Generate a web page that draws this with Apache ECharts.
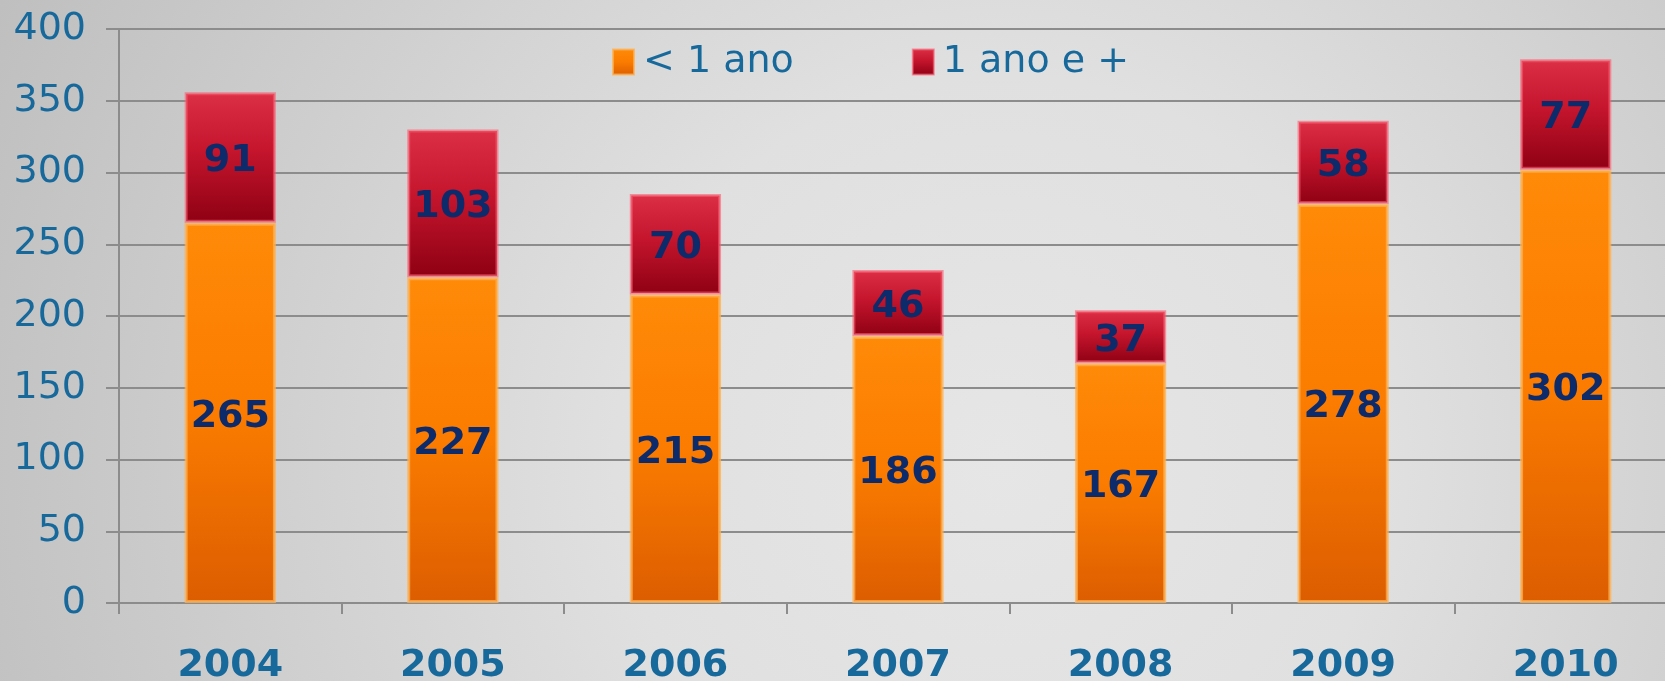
<!DOCTYPE html>
<html>
<head>
<meta charset="utf-8">
<script src="https://cdn.jsdelivr.net/npm/echarts@6/dist/echarts.min.js"></script>
<style>
  html, body { margin: 0; padding: 0; }
  #chart { width: 1665px; height: 681px; }
</style>
</head>
<body>
<div id="chart"></div>
<script>
// Years on the category axis
const years = ['2004', '2005', '2006', '2007', '2008', '2009', '2010'];
// Counts under one year
const underOneYear = [265, 227, 215, 186, 167, 278, 302];
// Counts of one year and more
const oneYearPlus = [91, 103, 70, 46, 37, 58, 77];
// Value axis ticks
const yMin = 0, yMax = 400, yStep = 50;

const FONT = 'DejaVu Sans';
const BLUE = '#17699c';
const NAVY = '#0d2b6b';
const GRID_GREY = '#8c8c8c';

const chart = echarts.init(document.getElementById('chart'), null, { renderer: 'canvas' });

function vGrad(stops) {
  return new echarts.graphic.LinearGradient(0, 0, 0, 1,
    stops.map(([offset, color]) => ({ offset, color })));
}

const labelStyle = {
  show: true,
  position: 'inside',
  offset: [0, 4],
  fontFamily: FONT,
  fontWeight: 'bold',
  fontSize: 38,
  color: NAVY
};

chart.setOption({
  animation: false,
  backgroundColor: new echarts.graphic.RadialGradient(1000, 460, 1100, [
    { offset: 0, color: '#e6e6e6' },
    { offset: 0.35, color: '#e0e0e0' },
    { offset: 0.7, color: '#cecece' },
    { offset: 1, color: '#bfbfbf' }
  ], true),
  textStyle: { fontFamily: FONT },
  legend: {
    left: 607,
    top: 38,
    itemWidth: 21,
    itemHeight: 25,
    itemGap: 118,
    icon: 'rect',
    textStyle: { fontFamily: FONT, fontSize: 38, color: BLUE, padding: [0, 0, 0, 4] },
    data: ['< 1 ano', '1 ano e +']
  },
  grid: {
    left: 119, top: 29, width: 1558, bottom: 78,
    containLabel: false,
    outerBoundsMode: 'none'
  },
  xAxis: {
    type: 'category',
    data: years,
    axisLine: { lineStyle: { color: GRID_GREY, width: 2 } },
    axisTick: { show: true, length: 11, lineStyle: { color: GRID_GREY, width: 2 } },
    axisLabel: {
      margin: 44,
      fontFamily: FONT,
      fontWeight: 'bold',
      fontSize: 38,
      color: BLUE
    }
  },
  yAxis: {
    type: 'value',
    min: yMin,
    max: yMax,
    interval: yStep,
    axisLine: { show: true, lineStyle: { color: GRID_GREY, width: 2 } },
    axisTick: { show: true, length: 13, lineStyle: { color: GRID_GREY, width: 2 } },
    splitLine: { show: true, lineStyle: { color: GRID_GREY, width: 2 } },
    axisLabel: {
      margin: 33,
      fontFamily: FONT,
      fontSize: 38,
      color: BLUE
    }
  },
  series: [
    {
      name: '< 1 ano',
      type: 'bar',
      stack: 'total',
      barWidth: '41%',
      data: underOneYear,
      itemStyle: {
        color: vGrad([[0, '#ff8a08'], [0.5, '#fb7c00'], [1, '#dc5d00']]),
        borderColor: 'rgba(255, 176, 80, 0.75)',
        borderWidth: 3
      },
      label: labelStyle
    },
    {
      name: '1 ano e +',
      type: 'bar',
      stack: 'total',
      data: oneYearPlus,
      itemStyle: {
        color: vGrad([[0, '#dc3046'], [0.45, '#c4152d'], [1, '#8e0013']]),
        borderColor: 'rgba(250, 90, 110, 0.6)',
        borderWidth: 3
      },
      label: labelStyle
    }
  ]
});
</script>
</body>
</html>
